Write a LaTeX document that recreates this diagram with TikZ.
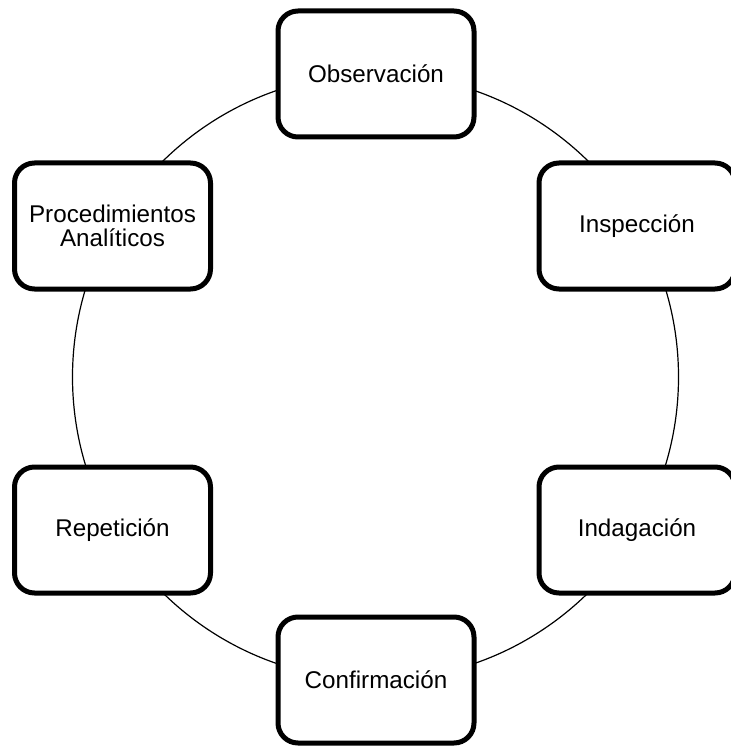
\documentclass[tikz,border=0pt]{standalone}
\usepackage{fontspec}
\setmainfont{Liberation Sans}
\begin{document}
\begin{tikzpicture}[x=1pt,y=-1pt,
  stagebox/.style={draw=black, line width=5pt, fill=white, rounded corners=20pt,
    minimum width=196pt, minimum height=126pt, inner sep=0pt, align=center,
    font=\fontsize{24.2}{24.5}\selectfont},
  ring/.style={draw=black, line width=1.2pt}]
  \useasboundingbox (0,0) rectangle (730,746);
  % cycle ring behind the stages
  \coordinate (ctr) at (375.5,377);
  \draw[ring] (ctr) circle[radius=303pt];
  % stages
  \node[stagebox] (obs)  at (376,74)    {Observación};
  \node[stagebox] (insp) at (637,226)   {Inspección};
  \node[stagebox] (inda) at (637,530)   {Indagación};
  \node[stagebox] (conf) at (376,680)   {Confirmación};
  \node[stagebox] (rep)  at (112.5,530) {Repetición};
  \node[stagebox] (proc) at (112.5,226) {Procedimientos\\Analíticos};
\end{tikzpicture}
\end{document}
